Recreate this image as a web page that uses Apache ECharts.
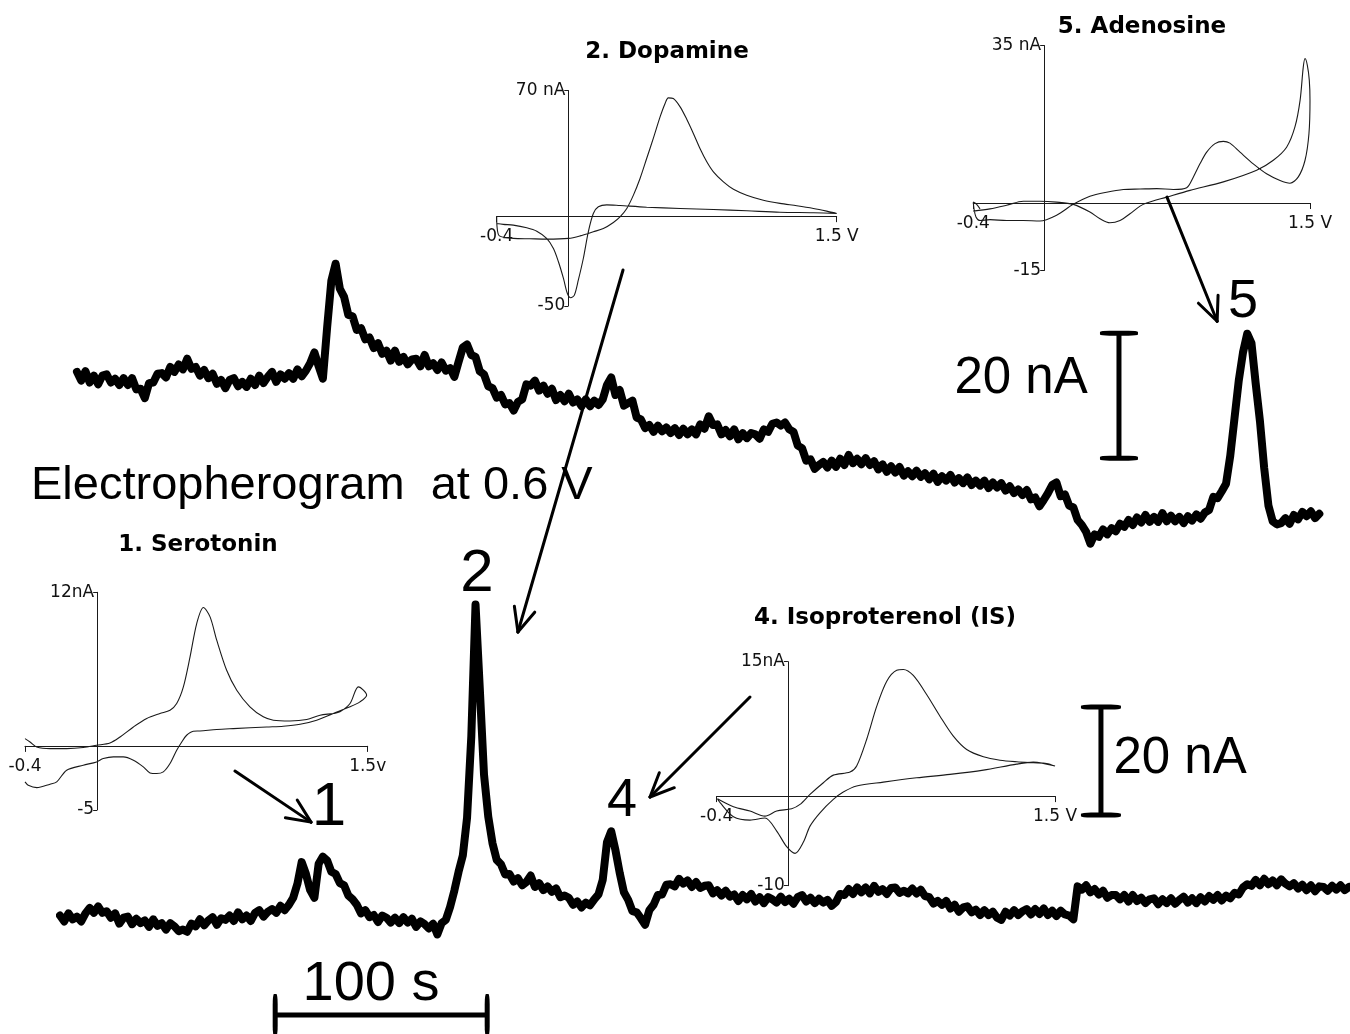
<!DOCTYPE html>
<html>
<head>
<meta charset="utf-8">
<title>Electropherogram at 0.6 V with CV insets</title>
<script src="https://cdn.jsdelivr.net/npm/echarts@6.0.0/dist/echarts.min.js"></script>
<style>
  html, body { margin: 0; padding: 0; background: #fff; }
  #main { width: 1350px; height: 1034px; }
</style>
</head>
<body>
<div id="main"></div>
<script>
// electropherograms, one reading every 2 s (nA above the local baseline)
var STEP = 2;
var upperStart = 8;
var upperTrace = [
  26.9,25.5,27.0,25.2,26.3,24.9,26.3,26.5,25.2,25.8,
  24.8,25.9,24.8,25.9,24.1,24.2,22.7,25.1,25.2,26.6,
  26.7,26.0,27.7,26.9,28.1,27.3,29.0,27.4,27.7,26.3,
  27.2,25.9,26.6,25.0,25.6,24.3,25.6,25.9,24.6,25.3,
  24.5,25.8,24.8,26.3,25.1,26.1,26.9,25.3,26.5,25.8,
  26.7,25.8,27.3,26.2,27.1,28.3,30.0,27.8,25.8,34.0,
  41.5,44.2,40.2,38.9,36.0,35.8,33.6,33.9,32.1,32.4,
  30.7,31.5,29.8,30.3,28.7,30.3,28.5,29.3,28.1,28.9,
  29.0,27.8,29.6,27.8,28.3,27.2,28.4,27.1,27.5,26.1,
  28.5,30.8,31.3,29.6,29.3,27.0,26.5,24.6,24.3,22.8,
  23.2,21.7,21.9,20.7,22.1,22.5,24.9,24.7,25.5,23.9,
  24.7,23.4,24.2,22.4,23.2,22.2,23.4,22.0,22.5,21.4,
  22.5,21.4,22.3,21.6,22.5,24.8,26.0,23.2,24.0,21.5,
  21.9,22.3,19.6,19.3,17.9,18.4,17.3,18.3,17.4,18.0,
  17.1,17.9,16.8,17.8,16.9,17.7,16.9,18.5,17.8,19.8,
  18.4,18.5,16.9,17.6,16.6,17.7,16.1,17.1,16.3,17.1,
  16.9,16.2,17.7,17.3,18.6,18.8,18.3,18.8,17.7,17.3,
  15.1,14.7,12.7,12.9,11.4,12.0,12.5,11.6,12.7,11.7,
  13.0,12.0,13.6,12.3,13.0,12.1,13.1,12.0,12.6,11.3,
  12.1,10.9,11.8,10.8,11.7,10.3,11.0,10.2,11.1,10.1,
  10.7,9.7,10.6,9.3,10.2,9.5,10.4,9.2,9.9,9.1,
  10.0,8.8,9.5,8.7,9.5,8.3,9.2,8.4,9.1,7.9,
  8.6,7.5,8.1,7.2,8.0,6.5,6.8,5.4,6.4,7.5,
  8.8,9.2,7.0,7.3,5.5,5.2,3.2,2.4,1.3,-0.6,
  0.9,0.5,1.7,0.9,1.9,1.4,2.6,2.1,3.2,2.4,
  3.6,2.8,4.0,2.9,3.7,2.9,4.3,3.0,3.9,3.0,
  3.7,2.7,3.8,3.1,4.1,3.4,4.4,4.8,6.9,6.7,
  7.8,9.0,13.5,19.5,25.5,30.0,33.0,31.5,25.0,19.0,
  11.5,5.5,3.0,2.5,2.7,3.5,2.6,4.0,3.3,4.5,
  3.8,4.6,3.5,4.2
];
var lowerStart = 0;
var lowerTrace = [
  -0.1,-1.2,0.3,-0.8,-0.3,-1.2,0.3,1.3,0.4,1.6,
  0.4,0.7,-0.5,0.3,-1.6,-0.5,-0.3,-1.7,-0.7,-1.5,
  -1.0,-2.2,-0.8,-2.0,-1.5,-2.7,-1.5,-2.1,-3.0,-2.7,
  -3.1,-1.6,-2.1,-0.8,-1.9,-1.0,-0.4,-1.8,-0.6,-0.9,
  -0.1,-1.1,0.5,-0.8,-0.1,-1.1,0.4,0.9,-0.3,0.6,
  1.1,0.4,1.7,0.9,1.9,3.2,5.8,9.8,7.6,4.6,
  3.2,9.5,10.8,10.1,8.0,7.6,5.9,5.5,3.6,2.9,
  1.9,0.3,0.9,-0.4,0.0,-1.3,-0.1,-0.5,-1.4,-0.5,
  -1.5,-0.4,-1.4,-0.7,-2.2,-1.2,-1.7,-2.5,-1.6,-3.6,
  -1.5,-0.9,1.5,4.5,8.0,11.0,18.0,33.0,57.5,42.0,
  26.0,18.2,13.3,10.2,9.4,7.5,7.6,6.2,6.8,5.5,
  6.1,7.3,5.2,5.9,4.6,5.3,4.3,4.9,3.3,3.6,
  3.2,1.9,2.5,1.4,2.3,1.8,2.9,3.8,6.5,13.5,
  15.5,12.0,7.8,4.2,2.8,0.7,0.5,-0.6,-1.8,0.9,
  1.9,3.7,3.8,5.6,5.7,5.3,6.7,5.8,6.4,5.2,
  6.1,5.0,5.4,5.5,4.0,4.6,3.6,4.5,3.4,3.8,
  2.6,3.7,2.9,3.9,2.5,3.3,2.2,3.3,2.9,2.3,
  3.4,2.4,3.0,2.1,3.3,3.7,2.5,3.2,2.2,3.0,
  2.3,2.8,1.7,2.4,3.9,3.7,4.8,3.9,5.1,4.2,
  5.1,4.0,5.4,4.3,4.8,3.9,5.0,5.1,4.1,4.5,
  4.0,4.9,4.0,4.7,3.5,3.3,2.1,2.6,1.9,2.6,
  1.2,1.9,0.6,1.4,1.6,0.5,1.0,0.0,0.9,0.0,
  0.6,-0.5,-0.9,0.6,-0.1,0.9,0.0,0.7,1.1,0.1,
  1.1,0.2,1.2,0.0,0.8,-0.2,0.8,0.1,-0.1,-0.8,
  5.3,4.7,5.5,4.2,4.8,3.8,4.5,3.2,3.7,3.7,
  2.9,3.7,2.5,3.7,2.6,3.2,2.2,2.9,3.1,2.0,
  2.9,2.2,3.1,2.1,2.8,3.4,2.3,3.1,2.2,3.3,
  2.5,3.5,2.8,3.7,2.7,3.6,3.1,4.1,3.8,5.1,
  5.7,5.4,6.5,5.5,6.7,5.7,6.4,5.5,6.6,5.8,
  5.3,5.9,4.9,5.6,4.6,5.5,4.4,5.3,5.2,4.5,
  5.4,4.7,5.5,4.6,5.2
];

// cyclic voltammograms (potential in V, current in nA)
var dopamineV = [-0.400,-0.398,-0.385,-0.307,-0.214,-0.121,0.001,0.066,0.140,0.196,0.252,0.289,0.327,0.364,0.401,0.438,0.476,0.513,0.541,0.559,0.587,0.625,0.662,0.699,0.736,0.774,0.811,0.867,0.923,0.997,1.090,1.183,1.277,1.370,1.444,1.500,
  1.370,1.183,0.997,0.811,0.625,0.438,0.289,0.215,0.168,0.140,0.112,0.084,0.056,0.034,0.014,-0.005,-0.027,-0.055,-0.083,-0.121,-0.176,-0.232,-0.307,-0.363,-0.400];
var dopamineI = [-0.5,-6.0,-11.0,-12.4,-12.6,-12.8,-12.4,-11.0,-8.7,-6.9,-3.5,-0.4,4.3,11.7,21.0,32.1,43.6,55.3,62.8,65.9,65.5,60.9,54.0,46.1,37.7,30.3,24.7,19.1,15.0,11.7,8.9,7.1,5.8,4.3,2.8,1.5,
  1.9,2.2,3.0,3.7,4.3,5.0,5.9,6.3,5.2,1.5,-8.7,-23.6,-35.7,-44.0,-45.5,-43.1,-34.7,-25.4,-18.0,-12.4,-8.4,-6.5,-5.0,-4.6,-4.1];

var adenosineV = [-0.400,-0.306,-0.212,-0.118,-0.024,0.070,0.164,0.258,0.315,0.371,0.428,0.484,0.541,0.578,0.691,0.823,1.011,1.199,1.293,1.368,1.415,1.444,1.462,1.472,
  1.485,1.496,1.500,1.494,1.472,1.434,1.387,1.331,1.255,1.180,1.105,1.048,1.011,0.964,0.917,0.879,0.842,0.804,0.729,0.635,0.541,0.447,0.352,0.258,0.164,0.070,-0.024,-0.118,-0.212,-0.306,-0.362,-0.385,-0.396,-0.400,-0.381,-0.362];
var adenosineI = [-1.8,-1.3,-0.5,0.4,0.4,0.2,-0.3,-2.0,-3.5,-4.4,-3.9,-2.4,-0.7,0.0,1.3,2.8,4.7,7.3,9.5,12.4,16.9,22.8,30.2,32.1,
  30.6,27.3,22.8,15.4,9.5,5.8,4.4,5.0,6.5,8.7,11.3,13.3,13.7,13.2,11.3,8.7,5.8,3.4,3.0,3.2,3.1,3.0,2.4,1.5,-0.3,-2.7,-4.0,-3.9,-3.9,-3.7,-3.9,-3.1,-1.3,0.2,-0.3,-1.3];

var serotoninV = [-0.400,-0.372,-0.335,-0.261,-0.169,-0.077,-0.003,0.071,0.127,0.201,0.275,0.348,0.404,0.441,0.478,0.515,0.552,0.589,0.626,0.663,0.718,0.774,0.847,0.921,0.977,1.069,1.162,1.236,1.309,1.346,1.402,1.448,1.476,1.494,
  1.457,1.402,1.309,1.217,1.125,1.032,0.940,0.755,0.663,0.570,0.533,0.496,0.469,0.441,0.404,0.367,0.330,0.293,0.256,0.201,0.145,0.090,0.034,-0.003,-0.077,-0.169,-0.224,-0.261,-0.335,-0.382,-0.400];
var serotoninI = [0.57,0.31,-0.08,-0.21,-0.21,-0.13,0.05,0.23,0.70,1.48,2.14,2.53,2.79,3.31,4.61,6.95,9.56,10.81,10.08,8.26,5.91,4.35,3.05,2.27,2.01,1.95,2.06,2.40,2.53,2.66,3.31,4.61,4.35,3.96,
  3.44,3.05,2.53,2.01,1.69,1.54,1.48,1.35,1.28,1.17,1.15,0.83,0.31,-0.34,-1.38,-2.03,-2.16,-2.11,-1.64,-1.12,-0.86,-0.86,-0.99,-1.25,-1.51,-1.90,-2.81,-2.99,-3.26,-3.07,-2.81];

var isoproterenolV = [-0.396,-0.306,-0.213,-0.129,-0.063,0.021,0.068,0.124,0.199,0.255,0.349,0.386,0.442,0.499,0.555,0.611,0.648,0.704,0.779,0.854,0.929,1.004,1.098,1.191,1.285,1.378,1.453,1.500,
  1.378,1.285,1.098,0.910,0.723,0.536,0.386,0.311,0.255,0.180,0.124,0.087,0.040,-0.007,-0.063,-0.129,-0.213,-0.306,-0.381,-0.396];
var isoproterenolI = [-0.30,-1.19,-1.67,-2.23,-1.67,-1.41,-0.93,0.19,1.49,2.34,2.68,3.35,6.32,10.04,12.83,14.05,14.13,13.46,11.34,8.92,6.69,5.20,4.39,4.01,3.83,3.72,3.64,3.35,
  3.79,3.57,2.90,2.42,2.04,1.56,1.12,0.45,-0.37,-1.86,-3.35,-5.13,-6.39,-5.65,-3.90,-2.45,-2.68,-2.30,-0.74,-0.30];

// inset axis ends and their labels
var cvRange = [-0.4, 1.5];
var dopamineRange = [-50, 70], dopamineTicks = ['-50', '70 nA'], dopamineXTicks = ['-0.4', '1.5 V'];
var adenosineRange = [-15, 35], adenosineTicks = ['-15', '35 nA'], adenosineXTicks = ['-0.4', '1.5 V'];
var serotoninRange = [-5, 12], serotoninTicks = ['-5', '12nA'], serotoninXTicks = ['-0.4', '1.5v'];
var isoproterenolRange = [-10, 15], isoproterenolTicks = ['-10', '15nA'], isoproterenolXTicks = ['-0.4', '1.5 V'];

// scale bars (s, nA)
var upperBar = [[499.5, 13.1], [499.5, 33.1]];
var lowerBar = [[491, 18.5], [491, 38.5]];
var timeBar = [[101.5, -18.5], [201.5, -18.5]];

// peak numbers and scale-bar captions, placed in (s, nA)
var upperText = ['5', '20 nA'];
var upperTextAt = [[558, 38.1], [453.3, 25.8]];
var lowerText = ['1', '2', '4', '20 nA', '100 s'];
var lowerTextAt = [[126.9, 19.8], [196.7, 63.0], [265.1, 21.1], [528.3, 28.9], [146.7, -12.8]];

var chart = echarts.init(document.getElementById('main'));

function pairs(xs, ys) {
  return xs.map(function (x, i) { return [x, ys[i]]; });
}
function timed(start, values) {
  return values.map(function (v, i) { return [start + i * STEP, v]; });
}

var insets = [
  { title: '2. Dopamine', v: dopamineV, i: dopamineI, range: dopamineRange, ticks: dopamineTicks, xticks: dopamineXTicks,
    grid: { left: 496.7, top: 90.5, width: 340, height: 215.4 }, titleAt: [667, 52] },
  { title: '5. Adenosine', v: adenosineV, i: adenosineI, range: adenosineRange, ticks: adenosineTicks, xticks: adenosineXTicks,
    grid: { left: 973.3, top: 45.5, width: 336.7, height: 225 }, titleAt: [1142, 27] },
  { title: '1. Serotonin', v: serotoninV, i: serotoninI, range: serotoninRange, ticks: serotoninTicks, xticks: serotoninXTicks,
    grid: { left: 25, top: 592.3, width: 342.7, height: 217.6 }, titleAt: [198, 545] },
  { title: '4. Isoproterenol (IS)', v: isoproterenolV, i: isoproterenolI, range: isoproterenolRange, ticks: isoproterenolTicks, xticks: isoproterenolXTicks,
    grid: { left: 716.7, top: 661.7, width: 338.3, height: 224 }, titleAt: [885, 618] }
];

var grids = [
  { left: 60, top: 227.5, width: 1289, height: 350 },
  { left: 60, top: 580.2, width: 1289, height: 464.4 }
];
var xAxes = [], yAxes = [];
[[-6, 50], [-24, 62]].forEach(function (r, k) {
  xAxes.push({ gridIndex: k, type: 'value', min: 0, max: 608, show: false });
  yAxes.push({ gridIndex: k, type: 'value', min: r[0], max: r[1], show: false });
});

var axisInk = { color: '#1a1a1a', width: 1 };
var tickFont = { color: '#111', fontFamily: 'DejaVu Sans', fontSize: 17 };

insets.forEach(function (ins, k) {
  var g = k + 2;
  var gr = ins.grid;
  // shift each axis from the grid edge onto the other axis' zero
  var yShift = (0 - cvRange[0]) / (cvRange[1] - cvRange[0]) * gr.width;
  var xShift = (0 - ins.range[0]) / (ins.range[1] - ins.range[0]) * gr.height;
  grids.push(Object.assign({}, gr));
  xAxes.push({
    gridIndex: g, type: 'value', position: 'bottom', offset: -xShift,
    min: cvRange[0], max: cvRange[1], interval: cvRange[1] - cvRange[0],
    axisLine: { show: true, onZero: false, lineStyle: axisInk },
    axisTick: { show: true, length: 6, customValues: cvRange, lineStyle: axisInk },
    axisLabel: Object.assign({ show: true, margin: 12, customValues: cvRange, hideOverlap: false,
      formatter: function (v) { return v < 0.5 ? ins.xticks[0] : ins.xticks[1]; } }, tickFont),
    splitLine: { show: false }
  });
  yAxes.push({
    gridIndex: g, type: 'value', position: 'left', offset: -yShift,
    min: ins.range[0], max: ins.range[1], interval: ins.range[1] - ins.range[0],
    axisLine: { show: true, onZero: false, lineStyle: axisInk },
    axisTick: { show: true, length: 4, customValues: ins.range, lineStyle: axisInk },
    axisLabel: Object.assign({ show: true, margin: 3, customValues: ins.range, hideOverlap: false,
      formatter: function (v) { return v < 0 ? ins.ticks[0] : ins.ticks[1]; } }, tickFont),
    splitLine: { show: false }
  });
});
grids.forEach(function (g) { g.outerBoundsMode = 'none'; g.containLabel = false; });

var series = [];
insets.forEach(function (ins, k) {
  series.push({
    type: 'line', xAxisIndex: k + 2, yAxisIndex: k + 2, data: pairs(ins.v, ins.i),
    showSymbol: false, smooth: 0.3, silent: true,
    lineStyle: { color: '#1a1a1a', width: 1.1 }
  });
});
[[upperStart, upperTrace], [lowerStart, lowerTrace]].forEach(function (tr, k) {
  series.push({
    type: 'line', xAxisIndex: k, yAxisIndex: k, data: timed(tr[0], tr[1]),
    showSymbol: false, silent: true, z: 3,
    lineStyle: { color: '#000', width: 8, join: 'round', cap: 'round' }
  });
});

function scaleBar(data, grid, cap) {
  return {
    type: 'line', xAxisIndex: grid, yAxisIndex: grid, data: data, clip: false, silent: true,
    showSymbol: true, symbol: 'roundRect', symbolSize: cap,
    itemStyle: { color: '#000' }, lineStyle: { color: '#000', width: 5 }
  };
}
series.push(scaleBar(upperBar, 0, [38, 5]));
series.push(scaleBar(lowerBar, 1, [40, 5]));
series.push(scaleBar(timeBar, 1, [5, 42]));

chart.setOption({
  animation: false,
  backgroundColor: '#fff',
  grid: grids,
  xAxis: xAxes,
  yAxis: yAxes,
  series: series
});

// arrows from each voltammogram to its peak
var arrows = [
  { fromGrid: 2, from: [0.306, -30.0], toGrid: 1, to: [216.0, 52.4] },
  { fromGrid: 3, from: [0.693, 1.3], toGrid: 0, to: [545.8, 35.0] },
  { fromGrid: 4, from: [0.764, -1.96], toGrid: 1, to: [118.4, 17.2] },
  { fromGrid: 5, from: [-0.213, 11.06], toGrid: 1, to: [278.3, 21.85] }
];

function seg(a, b, w) {
  return { type: 'line', z: 20, silent: true,
    shape: { x1: a[0], y1: a[1], x2: b[0], y2: b[1] },
    style: { stroke: '#000', lineWidth: w, lineCap: 'round' } };
}
function text(str, at, font, align) {
  return { type: 'text', x: at[0], y: at[1], z: 20, silent: true,
    style: { text: str, fill: '#000', font: font,
      textAlign: align, textVerticalAlign: 'middle', align: align, verticalAlign: 'middle' } };
}

var elements = [];
arrows.forEach(function (a) {
  var p0 = chart.convertToPixel({ gridIndex: a.fromGrid }, a.from);
  var p1 = chart.convertToPixel({ gridIndex: a.toGrid }, a.to);
  var ang = Math.atan2(p1[1] - p0[1], p1[0] - p0[0]);
  elements.push(seg(p0, p1, 3));
  [-1, 1].forEach(function (s) {
    var h = ang + Math.PI + s * 0.42;
    elements.push(seg(p1, [p1[0] + 26 * Math.cos(h), p1[1] + 26 * Math.sin(h)], 3));
  });
});

var captionSize = { '1': 62, '2': 60, '4': 54, '5': 54, '20 nA': 51, '100 s': 56 };
[[upperText, upperTextAt, 0], [lowerText, lowerTextAt, 1]].forEach(function (set) {
  set[0].forEach(function (str, i) {
    var p = chart.convertToPixel({ gridIndex: set[2] }, set[1][i]);
    elements.push(text(str, p, captionSize[str] + 'px "Liberation Sans"', 'center'));
  });
});

insets.forEach(function (ins) {
  elements.push(text(ins.title, ins.titleAt, 'bold 23px "DejaVu Sans"', 'center'));
});
elements.push(text('Electropherogram  at 0.6 V', [31, 486], '47px "Liberation Sans"', 'left'));

chart.setOption({ graphic: { elements: elements } });
</script>
</body>
</html>
